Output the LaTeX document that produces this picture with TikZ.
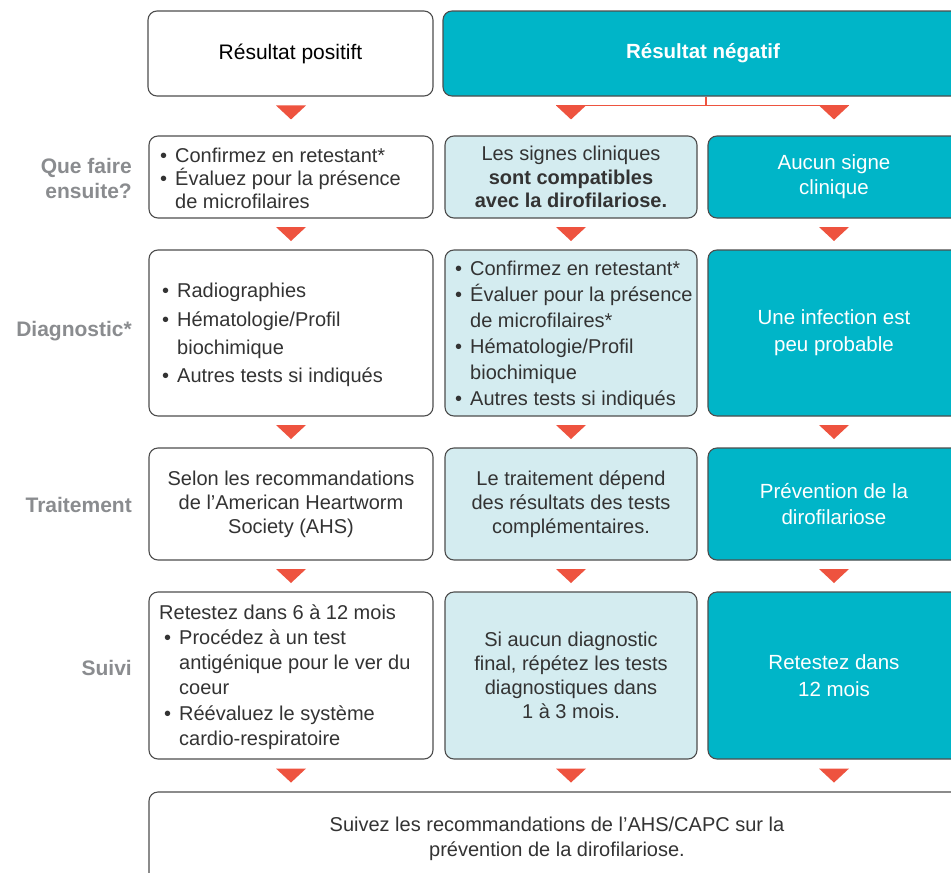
\documentclass[tikz,border=0pt]{standalone}
\usepackage{fontspec}
\setmainfont{Liberation Sans}
\usetikzlibrary{calc}
\definecolor{cteal}{HTML}{00B5C8}
\definecolor{clight}{HTML}{D4ECF0}
\definecolor{cborder}{HTML}{4D4D4D}
\definecolor{cred}{HTML}{EE533F}
\definecolor{ctext}{HTML}{333333}
\definecolor{cgray}{HTML}{8A8C8F}
\newcommand{\bul}{\makebox[15pt][l]{\textbullet}}
\newcommand{\ind}{\hspace*{15pt}}
\begin{document}
\begin{tikzpicture}[x=1pt,y=-1pt,
  box/.style={draw=cborder, line width=1.1pt, rounded corners=9pt, inner sep=0pt, align=center},
  wbox/.style={box, fill=white, text=ctext},
  lbox/.style={box, fill=clight, text=ctext},
  tbox/.style={box, fill=cteal, text=white},
  c1/.style={minimum width=284pt},
  c2/.style={minimum width=252pt},
  txt/.style={inner sep=0pt, align=left, anchor=west, text=ctext},
  lab/.style={inner sep=0pt, align=right, anchor=east, text=cgray, font=\bfseries\fontsize{21}{25}\selectfont},
  redline/.style={draw=cred, line width=1.5pt},
  tri/.pic={\fill[cred] (-15,-7) -- (15,-7) -- (0,7) -- cycle;}
]
\path[use as bounding box, clip] (0,0) rectangle (951,873);
\fill[white] (0,0) rectangle (951,873);

% headers
\node[wbox, minimum width=285pt, minimum height=85pt, text=black, font=\fontsize{21}{25}\selectfont] (hp) at (290.5,53.5) {Résultat positift};
\node[tbox, minimum width=520pt, minimum height=85pt, font=\bfseries\fontsize{20.5}{25}\selectfont] (hn) at (703,53.5) {Résultat négatif};

% row 1
\node[wbox, c1, minimum height=82pt] (p1) at (291,177) {};
\node[txt, font=\fontsize{20}{23}\selectfont] (p1t) at (160,178) {\bul Confirmez en retestant*\\\bul Évaluez pour la présence\\\ind de microfilaires};
\node[lbox, c2, minimum height=82pt, font=\fontsize{20}{23.5}\selectfont] (n1) at (571,177) {Les signes cliniques\\\textbf{sont compatibles}\\\textbf{avec la dirofilariose.}};
\node[tbox, c2, minimum height=82pt, font=\fontsize{20.5}{25}\selectfont] (a1) at (834,177) {Aucun signe\\clinique};

% row 2
\node[wbox, c1, minimum height=166pt] (p2) at (291,333) {};
\node[txt, font=\fontsize{20}{28.3}\selectfont] (p2t) at (162,335) {\bul Radiographies\\\bul Hématologie/Profil\\\ind biochimique\\\bul Autres tests si indiqués};
\node[lbox, c2, minimum height=166pt] (n2) at (571,333) {};
\node[txt, font=\fontsize{20}{26}\selectfont] (n2t) at (455,335) {\bul Confirmez en retestant*\\\bul Évaluer pour la présence\\\ind de microfilaires*\\\bul Hématologie/Profil\\\ind biochimique\\\bul Autres tests si indiqués};
\node[tbox, c2, minimum height=166pt, font=\fontsize{20.5}{27}\selectfont] (a2) at (834,333) {Une infection est\\peu probable};

% row 3
\node[wbox, c1, minimum height=112pt, font=\fontsize{20}{24}\selectfont] (p3) at (291,504) {Selon les recommandations\\de l’American Heartworm\\Society (AHS)};
\node[lbox, c2, minimum height=112pt, font=\fontsize{20}{24}\selectfont] (n3) at (571,504) {Le traitement dépend\\des résultats des tests\\complémentaires.};
\node[tbox, c2, minimum height=112pt, font=\fontsize{20.5}{26}\selectfont] (a3) at (834,504) {Prévention de la\\dirofilariose};

% row 4
\node[wbox, c1, minimum height=167pt] (p4) at (291,675.5) {};
\node[txt, font=\fontsize{20}{25.2}\selectfont] (p4t) at (159,677) {Retestez dans 6 à 12 mois\\\hspace*{5pt}\bul Procédez à un test\\\hspace*{5pt}\ind antigénique pour le ver du\\\hspace*{5pt}\ind coeur\\\hspace*{5pt}\bul Réévaluez le système\\\hspace*{5pt}\ind cardio-respiratoire};
\node[lbox, c2, minimum height=167pt, font=\fontsize{20}{24}\selectfont] (n4) at (571,675.5) {Si aucun diagnostic\\final, répétez les tests\\diagnostiques dans\\1 à 3 mois.};
\node[tbox, c2, minimum height=167pt, font=\fontsize{20.5}{27}\selectfont] (a4) at (834,675.5) {Retestez dans\\12 mois};

% bottom
\node[wbox, minimum width=816pt, minimum height=93pt, font=\fontsize{20}{25}\selectfont] (bt) at (557,838.5) {Suivez les recommandations de l’AHS/CAPC sur la\\prévention de la dirofilariose.};

% row labels
\node[lab] (l1) at (132,178) {Que faire\\ensuite?};
\node[lab] (l2) at (132,331) {Diagnostic*};
\node[lab] (l3) at (132,505) {Traitement};
\node[lab] (l4) at (132,668) {Suivi};

% red connector from negative header
\coordinate (j) at (706,0);
\coordinate (tn) at ($(n1.north)+(0,-30)$);
\coordinate (ta) at ($(a1.north)+(0,-30)$);
\draw[redline] (hn.south -| j) -- (tn -| j);
\draw[redline] ($(tn)+(-15,0)$) -- ($(ta)+(15,0)$);

% triangles
\pic at ($(p1.north)+(0,-23)$) {tri};
\pic at ($(n1.north)+(0,-23)$) {tri};
\pic at ($(a1.north)+(0,-23)$) {tri};
\foreach \u/\l in {p1/p2,n1/n2,a1/a2,p2/p3,n2/n3,a2/a3,p3/p4,n3/n4,a3/a4}{
  \pic at ($(\u.south)!0.5!(\l.north)$) {tri};
}
\pic at ($(p4.south)+(0,16)$) {tri};
\pic at ($(n4.south)+(0,16)$) {tri};
\pic at ($(a4.south)+(0,16)$) {tri};
\end{tikzpicture}
\end{document}
